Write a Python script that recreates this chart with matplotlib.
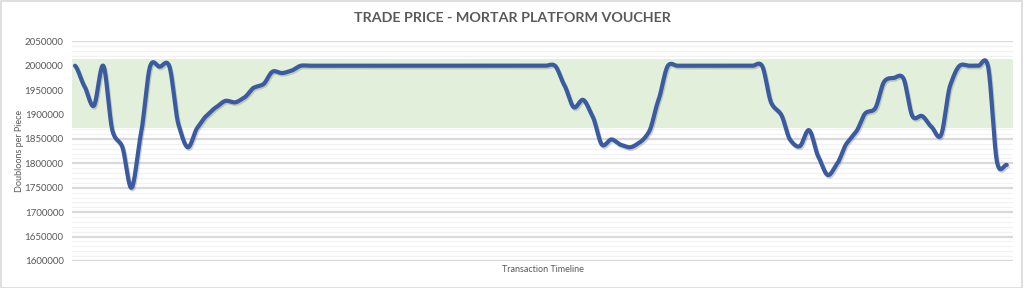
import numpy as np
import matplotlib
matplotlib.use("Agg")
import matplotlib.pyplot as plt
import matplotlib.patheffects as pe
from matplotlib.patches import Rectangle

title = "TRADE PRICE - MORTAR PLATFORM VOUCHER"
y_label = "Doubloons per Piece"
x_label = "Transaction Timeline"

prices = [
    2000000, 1958000, 1918000, 2000000, 1865000, 1835000, 1750000, 1860000, 2000000, 1998000,
    2000000, 1879000, 1833000, 1873000, 1898000, 1915000, 1928000, 1925000, 1935000, 1955000,
    1962000, 1988000, 1985000, 1990000, 2000000, 2000000, 2000000, 2000000, 2000000, 2000000,
    2000000, 2000000, 2000000, 2000000, 2000000, 2000000, 2000000, 2000000, 2000000, 2000000,
    2000000, 2000000, 2000000, 2000000, 2000000, 2000000, 2000000, 2000000, 2000000, 2000000,
    2000000, 2000000, 1960000, 1915000, 1930000, 1896000, 1838000, 1849000, 1838000, 1833000,
    1843000, 1865000, 1930000, 2000000, 2000000, 2000000, 2000000, 2000000, 2000000, 2000000,
    2000000, 2000000, 2000000, 2000000, 1923000, 1901000, 1848000, 1835000, 1868000, 1813000,
    1776000, 1800000, 1841000, 1865000, 1903000, 1912000, 1968000, 1975000, 1975000, 1896000,
    1897000, 1875000, 1857000, 1960000, 2000000, 2000000, 2000000, 2000000, 1800000, 1797000,
]

band_low = 1872000
band_high = 2014000
y_min, y_max = 1600000, 2050000
y_major = 50000
y_minor = 10000


def smooth_curve(y, samples=20, tension=0.75):
    y = np.asarray(y, dtype=float)
    n = len(y)
    xs, ys = [], []
    for i in range(n - 1):
        p0 = y[i - 1] if i > 0 else y[i]
        p1 = y[i]
        p2 = y[i + 1]
        p3 = y[i + 2] if i + 2 < n else y[i + 1]
        m1 = tension * (p2 - p0) / 2.0
        m2 = tension * (p3 - p1) / 2.0
        t = np.linspace(0, 1, samples, endpoint=False)
        h00 = 2 * t**3 - 3 * t**2 + 1
        h10 = t**3 - 2 * t**2 + t
        h01 = -2 * t**3 + 3 * t**2
        h11 = t**3 - t**2
        ys.append(h00 * p1 + h10 * m1 + h01 * p2 + h11 * m2)
        xs.append(i + t)
    xs.append(np.array([n - 1]))
    ys.append(np.array([y[-1]]))
    return np.concatenate(xs), np.concatenate(ys)


fig = plt.figure(figsize=(10.24, 2.88), dpi=100)
fig.patch.set_facecolor("white")
fig.patches.append(Rectangle((0.0005, 0.001), 0.998, 0.997, transform=fig.transFigure,
                             fill=False, edgecolor="#D9D9D9", linewidth=1.2))

ax = fig.add_axes([72 / 1024, 1 - 261 / 288, (1013 - 72) / 1024, (261 - 41.3) / 288])
ax.set_facecolor("white")

x = np.arange(len(prices))
ax.set_xlim(-0.32, len(prices) - 1 + 0.67)
ax.set_ylim(y_min, y_max)

for v in np.arange(y_min, y_max + 1, y_minor):
    if v % y_major == 0:
        ax.axhline(v, color="#D9D9D9", lw=1.6, zorder=1)
    else:
        ax.axhline(v, color="#F2F2F2", lw=0.9, zorder=0.8)

ax.axhspan(band_low, band_high, color="#E2EFDA", zorder=2, lw=0)

sx, sy = smooth_curve(prices)
ax.plot(sx, sy, color="#3A5BA0", lw=3.0, solid_capstyle="round", zorder=3,
        path_effects=[pe.SimpleLineShadow(offset=(0.8, -1.2), shadow_color="#7F7F7F", alpha=0.35),
                      pe.Normal()])

for s in ax.spines.values():
    s.set_visible(False)
ax.set_xticks([])
ax.set_yticks(np.arange(y_min, y_max + 1, y_major))
ax.set_yticklabels([str(int(v)) for v in np.arange(y_min, y_max + 1, y_major)],
                   fontsize=7.0, color="#595959", family="Lato")
ax.tick_params(axis="y", length=0, pad=6)

fig.text(20 / 1024, 1 - 151 / 288, y_label, rotation=90, ha="center", va="center",
         fontsize=6.5, color="#595959", family="Lato")
fig.text(543 / 1024, 1 - 270 / 288, x_label, ha="center", va="center",
         fontsize=6.5, color="#595959", family="Lato")
fig.text(512 / 1024, 1 - 18 / 288, title, ha="center", va="center",
         fontsize=10.3, fontweight="bold", color="#595959", family="Lato")

fig.savefig("out.png", dpi=100, facecolor="white")
